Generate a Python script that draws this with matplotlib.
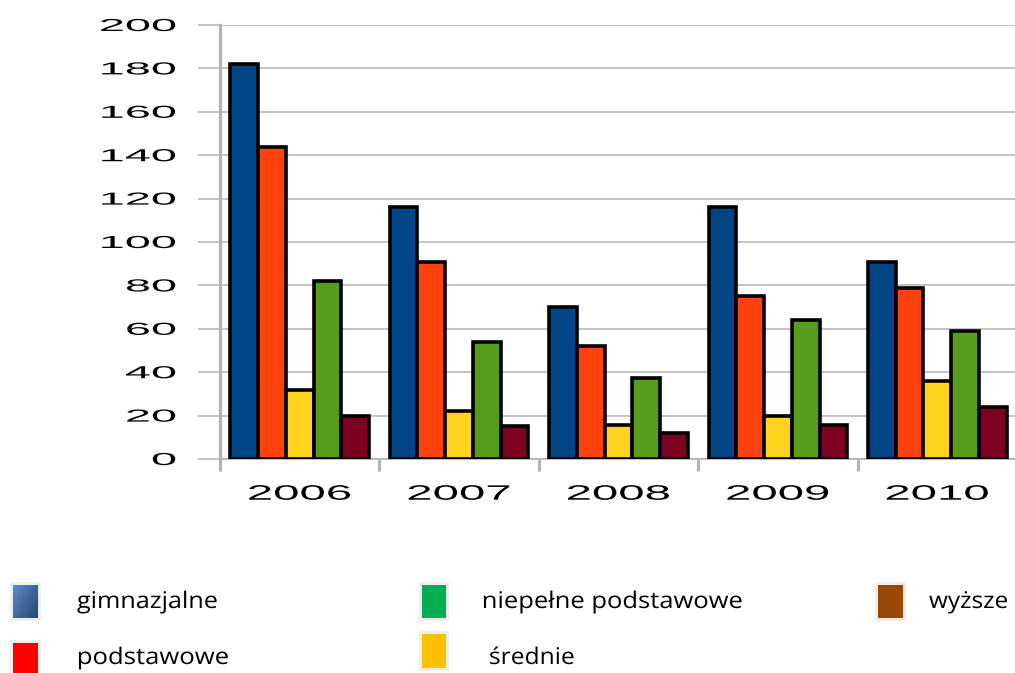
import numpy as np
import matplotlib
matplotlib.use("Agg")
import matplotlib.pyplot as plt
from matplotlib.patheffects import AbstractPathEffect
from matplotlib.transforms import Affine2D
from matplotlib.patches import Rectangle

# ---------------- data ----------------
years = ["2006", "2007", "2008", "2009", "2010"]
gimnazjalne = [182, 116, 70, 116, 91]
podstawowe = [144, 91, 52, 75, 79]
srednie = [32, 22, 15.5, 20, 36]
niepelne_podstawowe = [82, 54, 37.5, 64, 59]
wyzsze = [20, 15, 12, 15.5, 24]
y_ticks = [0, 20, 40, 60, 80, 100, 120, 140, 160, 180, 200]

series = [gimnazjalne, podstawowe, srednie, niepelne_podstawowe, wyzsze]
bar_colors = ["#004586", "#ff420e", "#ffd320", "#579d1c", "#7e0021"]

legend_labels = ["gimnazjalne", "podstawowe", "niepełne podstawowe", "średnie", "wyższe"]
legend_colors = ["#4f81bd", "#ff0000", "#00b050", "#ffc000", "#984807"]

# ---------------- helpers ----------------
W, H = 1015, 673


def fx(px):
    return px / W


def fy(py):
    return 1 - py / H


class HStretch(AbstractPathEffect):
    """Horizontally stretch rendered text about an anchor (text stays a Text artist)."""

    def __init__(self, sx=1.0, anchor="center"):
        super().__init__()
        self.sx = sx
        self.anchor = anchor

    def draw_path(self, renderer, gc, tpath, affine, rgbFace=None):
        bb = tpath.get_extents(affine)
        if self.anchor == "left":
            x0 = bb.x0
        elif self.anchor == "right":
            x0 = bb.x1
        else:
            x0 = 0.5 * (bb.x0 + bb.x1)
        t = affine + Affine2D().translate(-x0, 0).scale(self.sx, 1.0).translate(x0, 0)
        renderer.draw_path(gc, tpath, t, rgbFace)


grid_col = "#b3b3b3"

fig = plt.figure(figsize=(W / 100, H / 100), dpi=100)
ax_left, ax_right = 220, 1017
ax_top, ax_bottom = 25, 459
ax = fig.add_axes([fx(ax_left), fy(ax_bottom), (ax_right - ax_left) / W, (ax_bottom - ax_top) / H])

n = len(series)
group_w = 0.87
bw = group_w / n
x = np.arange(len(years))
for i, (vals, col) in enumerate(zip(series, bar_colors)):
    ax.bar(x - group_w / 2 + bw * (i + 0.5), vals, width=bw, color=col,
           edgecolor="black", linewidth=2.6, zorder=3)

ax.set_xlim(-0.5, len(years) - 0.5)
ax.set_ylim(0, 200)
ax.set_yticks(y_ticks)
ax.set_yticklabels([str(v) for v in y_ticks])
ax.set_xticks(x)
ax.set_xticklabels(years)
ax.set_xticks(np.arange(len(years) + 1) - 0.5, minor=True)

ax.set_axisbelow(True)
ax.yaxis.grid(True, color=grid_col, linewidth=1.1)
for s in ["top", "right"]:
    ax.spines[s].set_visible(False)
ax.spines["left"].set_color(grid_col)
ax.spines["left"].set_linewidth(2.3)
ax.spines["bottom"].set_color(grid_col)
ax.spines["bottom"].set_linewidth(1.3)

ax.tick_params(axis="y", which="major", length=15.8, width=1.1, color=grid_col,
               pad=16.0, labelsize=12.5)
ax.tick_params(axis="x", which="major", length=0, pad=18.5, labelsize=15)
ax.tick_params(axis="x", which="minor", length=8.6, width=2.2, color=grid_col)

for lbl in ax.get_yticklabels() + ax.get_xticklabels():
    lbl.set_fontfamily("Liberation Sans")

# ---------------- legend (drawn as figure artists) ----------------
patch_boxes = [(13, 585, 38, 618), (13, 643, 38, 675), (422, 585, 446, 618),
               (422, 634, 446, 668), (878, 585, 903, 618)]
text_pos = [(77, 608), (77, 664), (482, 608), (489, 664), (929, 608)]
text_w = [141, 152, 261, 86, 79]

for k, ((x0, y0, x1, y1), col) in enumerate(zip(patch_boxes, legend_colors)):
    fig.patches.append(Rectangle((fx(x0 - 3), fy(y1 + 3)), (x1 - x0 + 6) / W, (y1 - y0 + 6) / H,
                                 transform=fig.transFigure, facecolor="#eeeeee",
                                 edgecolor="none", zorder=1))
    if k == 0:
        gax = fig.add_axes([fx(x0), fy(y1), (x1 - x0) / W, (y1 - y0) / H])
        gax.set_zorder(5)
        gx, gy = np.meshgrid(np.linspace(0, 1, 30), np.linspace(0, 1, 40))
        g = 0.55 * gx + 0.45 * gy
        c0 = np.array(matplotlib.colors.to_rgb("#5b8cc9"))
        c1 = np.array(matplotlib.colors.to_rgb("#284670"))
        img = c0[None, None, :] * (1 - g[..., None]) + c1[None, None, :] * g[..., None]
        gax.imshow(img, aspect="auto", interpolation="bilinear")
        gax.set_axis_off()
    else:
        fig.patches.append(Rectangle((fx(x0), fy(y1)), (x1 - x0) / W, (y1 - y0) / H,
                                     transform=fig.transFigure, facecolor=col,
                                     edgecolor="none", zorder=2))

legend_texts = []
for lab, (tx, ty) in zip(legend_labels, text_pos):
    t = fig.text(fx(tx), fy(ty), lab, ha="left", va="baseline", fontsize=16.5,
                 family=["Open Sans", "DejaVu Sans"], color="black")
    legend_texts.append(t)

# ---------------- horizontal stretching to match the wide reference lettering ----------------
fig.canvas.draw()
r = fig.canvas.get_renderer()
yl = ax.get_yticklabels()
sy = 78 / yl[-1].get_window_extent(r).width
for lbl in yl:
    lbl.set_path_effects([HStretch(sy, "right")])
xl = ax.get_xticklabels()
sxx = 106 / xl[0].get_window_extent(r).width
for lbl in xl:
    lbl.set_path_effects([HStretch(sxx, "center")])
for t, w in zip(legend_texts, text_w):
    t.set_path_effects([HStretch(w / t.get_window_extent(r).width, "left")])

fig.savefig("out.png", dpi=100)
